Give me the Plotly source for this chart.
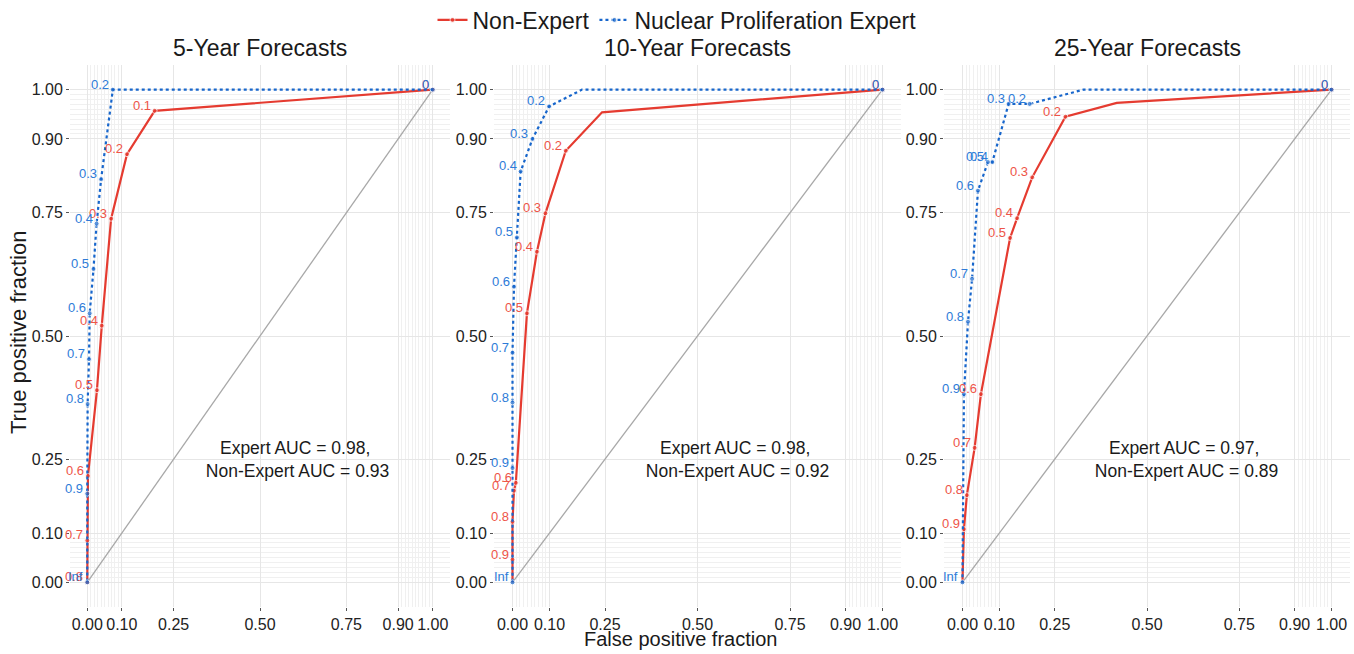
import plotly.graph_objects as go

# ---------------- data ----------------
panel_titles = ["5-Year Forecasts", "10-Year Forecasts", "25-Year Forecasts"]
series_names = ["Non-Expert", "Nuclear Proliferation Expert"]

# 5-year
non5_fpf = [1.0, 0.195, 0.115, 0.069, 0.042, 0.028, 0.002, 0.0, 0.0]
non5_tpf = [1.0, 0.957, 0.869, 0.738, 0.521, 0.390, 0.216, 0.085, 0.0]
non5_cut = ["0", "0.1", "0.2", "0.3", "0.4", "0.5", "0.6", "0.7", "0.8"]
exp5_fpf = [1.0, 0.074, 0.040, 0.027, 0.018, 0.007, 0.005, 0.001, 0.0, 0.0]
exp5_tpf = [1.0, 1.0, 0.818, 0.728, 0.636, 0.546, 0.453, 0.362, 0.180, 0.0]
exp5_cut = ["0", "0.2", "0.3", "0.4", "0.5", "0.6", "0.7", "0.8", "0.9", "Inf"]

# 10-year
non10_fpf = [1.0, 0.242, 0.144, 0.089, 0.066, 0.039, 0.009, 0.004, 0.0, 0.0, 0.0]
non10_tpf = [1.0, 0.954, 0.876, 0.749, 0.671, 0.546, 0.202, 0.186, 0.123, 0.046, 0.0]
non10_cut = ["0", "", "0.2", "0.3", "0.4", "0.5", "0.6", "0.7", "0.8", "0.9", ""]
exp10_fpf = [1.0, 0.188, 0.099, 0.054, 0.022, 0.012, 0.004, 0.0, 0.0, 0.0, 0.0]
exp10_tpf = [1.0, 1.0, 0.966, 0.900, 0.834, 0.700, 0.600, 0.466, 0.365, 0.232, 0.0]
exp10_cut = ["0", "", "0.2", "0.3", "0.4", "0.5", "0.6", "0.7", "0.8", "0.9", "Inf"]

# 25-year
non25_fpf = [1.0, 0.418, 0.279, 0.189, 0.148, 0.129, 0.050, 0.033, 0.012, 0.004, 0.0]
non25_tpf = [1.0, 0.973, 0.945, 0.822, 0.739, 0.699, 0.382, 0.273, 0.177, 0.108, 0.0]
non25_cut = ["0", "", "0.2", "0.3", "0.4", "0.5", "0.6", "0.7", "0.8", "0.9", ""]
exp25_fpf = [1.0, 0.328, 0.182, 0.125, 0.081, 0.069, 0.042, 0.026, 0.015, 0.004, 0.0]
exp25_tpf = [1.0, 1.0, 0.971, 0.971, 0.853, 0.853, 0.795, 0.616, 0.529, 0.382, 0.0]
exp25_cut = ["0", "", "0.2", "0.3", "0.4", "0.5", "0.6", "0.7", "0.8", "0.9", "Inf"]

expert_auc = ["0.98", "0.98", "0.97"]
nonexpert_auc = ["0.93", "0.92", "0.89"]

tick_vals = [0, 0.1, 0.25, 0.5, 0.75, 0.9, 1.0]
tick_text = ["0.00", "0.10", "0.25", "0.50", "0.75", "0.90", "1.00"]
minor_vals = [0.01, 0.02, 0.03, 0.04, 0.05, 0.06, 0.07, 0.08, 0.09,
              0.91, 0.92, 0.93, 0.94, 0.95, 0.96, 0.97, 0.98, 0.99]

panels = [
    (non5_fpf, non5_tpf, non5_cut, exp5_fpf, exp5_tpf, exp5_cut),
    (non10_fpf, non10_tpf, non10_cut, exp10_fpf, exp10_tpf, exp10_cut),
    (non25_fpf, non25_tpf, non25_cut, exp25_fpf, exp25_tpf, exp25_cut),
]

# ---------------- style ----------------
W, H = 1354, 654
FONT = "Liberation Sans, Arial, sans-serif"
RED, BLUE = "#E53B30", "#1766CC"
RED_TXT, BLUE_TXT = "#EE5448", "#2E7BD8"
GRID, MINOR = "#E6E6E6", "#F0F0F0"

x_px = [(70, 450), (494, 901), (944, 1350)]
y_px = (65, 607)
ydom = [1 - y_px[1] / H, 1 - y_px[0] / H]

fig = go.Figure()
annotations = []
layout = dict(
    width=W, height=H, margin=dict(l=0, r=0, t=0, b=0, autoexpand=False),
    paper_bgcolor="white", plot_bgcolor="white",
    font=dict(family=FONT, color="#1a1a1a"),
    showlegend=True,
    legend=dict(orientation="h", x=0.5, xanchor="center", y=1 - 20 / H, yanchor="middle",
                font=dict(size=23, color="#1a1a1a"), bgcolor="rgba(0,0,0,0)",
                tracegroupgap=0),
)


def add_labels(xs, ys, labels, color, xa, ya):
    for xv, yv, lab in zip(xs, ys, labels):
        if lab == "":
            continue
        annotations.append(dict(
            text=lab, x=xv, y=yv, xref=xa, yref=ya, showarrow=False,
            xanchor="right", yanchor="bottom", xshift=-3, yshift=-3, borderpad=0,
            font=dict(size=13, color=color, family=FONT)))


for i, (nf, nt, nc, ef, et, ec) in enumerate(panels):
    sx = "" if i == 0 else str(i + 1)
    xa, ya = "x" + sx, "y" + sx
    xdom = [x_px[i][0] / W, x_px[i][1] / W]
    axis_common = dict(
        range=[-0.05, 1.05], tickvals=tick_vals, ticktext=tick_text,
        showgrid=True, gridcolor=GRID, gridwidth=1, zeroline=False, showline=False,
        ticks="outside", ticklen=3, tickcolor="#555", tickwidth=1,
        tickfont=dict(size=16, color="#222", family=FONT),
        minor=dict(tickvals=minor_vals, showgrid=True, gridcolor=MINOR, gridwidth=1, ticks=""),
        fixedrange=True, automargin=False,
    )
    layout["xaxis" + sx] = dict(axis_common, domain=xdom, anchor=ya)
    layout["yaxis" + sx] = dict(axis_common, domain=ydom, anchor=xa)

    # reference diagonal
    fig.add_trace(go.Scatter(x=[0, 1], y=[0, 1], mode="lines", xaxis=xa, yaxis=ya,
                             line=dict(color="#A8A8A8", width=1.3), showlegend=False,
                             hoverinfo="skip"))
    # non-expert
    fig.add_trace(go.Scatter(
        x=nf, y=nt, mode="lines+markers", xaxis=xa, yaxis=ya,
        name=series_names[0], legendgroup="non", showlegend=(i == 0),
        line=dict(color=RED, width=2.2),
        marker=dict(color=RED, size=[0 if c == "" else 5 for c in nc]),
    ))
    # expert
    fig.add_trace(go.Scatter(
        x=ef, y=et, mode="lines+markers", xaxis=xa, yaxis=ya,
        name=series_names[1], legendgroup="exp", showlegend=(i == 0),
        line=dict(color=BLUE, width=2.2, dash="dot"),
        marker=dict(color=BLUE, size=[0 if c == "" else 5 for c in ec]),
    ))
    add_labels(nf, nt, nc, RED_TXT, xa, ya)
    add_labels(ef, et, ec, BLUE_TXT, xa, ya)

    # panel title
    annotations.append(dict(
        text=panel_titles[i], xref="paper", yref="paper",
        x=(xdom[0] + xdom[1]) / 2, y=1 - 48 / H, xanchor="center", yanchor="middle",
        showarrow=False, font=dict(size=23, color="#1a1a1a", family=FONT)))
    # AUC text
    annotations.append(dict(
        text="Expert AUC = %s,<br> Non-Expert AUC = %s" % (expert_auc[i], nonexpert_auc[i]),
        xref=xa, yref=ya, x=0.6, y=0.25, xanchor="center", yanchor="middle",
        showarrow=False, align="center",
        font=dict(size=17.5, color="#1a1a1a", family=FONT)))

# axis titles
annotations.append(dict(
    text="True positive fraction", xref="paper", yref="paper",
    x=19 / W, y=1 - 333 / H, textangle=-90, xanchor="center", yanchor="middle",
    showarrow=False, font=dict(size=22, color="#1a1a1a", family=FONT)))
annotations.append(dict(
    text="False positive fraction", xref="paper", yref="paper",
    x=680 / W, y=1 - 639 / H, xanchor="center", yanchor="middle",
    showarrow=False, font=dict(size=20, color="#1a1a1a", family=FONT)))

layout["annotations"] = annotations
fig.update_layout(**layout)
fig.write_html("out.html", config={"displayModeBar": False},
               post_script="document.body.style.margin='0';document.body.style.overflow='hidden';")
